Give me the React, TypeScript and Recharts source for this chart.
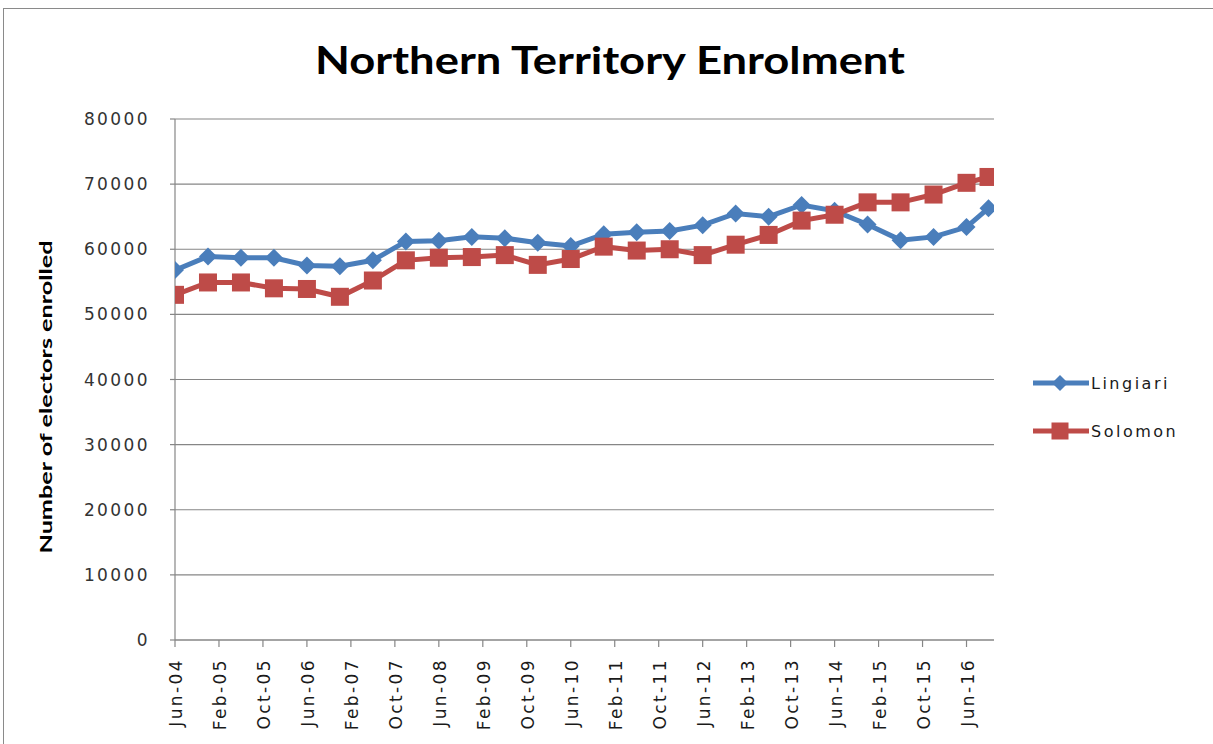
import { CartesianGrid, Legend, Line, LineChart, XAxis, YAxis } from "recharts";

// Survey dates (roughly every six months, last one Oct-16)
const DATES = [
  "2004-06", "2004-12", "2005-06", "2005-12", "2006-06", "2006-12",
  "2007-06", "2007-12", "2008-06", "2008-12", "2009-06", "2009-12",
  "2010-06", "2010-12", "2011-06", "2011-12", "2012-06", "2012-12",
  "2013-06", "2013-12", "2014-06", "2014-12", "2015-06", "2015-12",
  "2016-06", "2016-10",
];

const LINGIARI = [
  56800, 58900, 58700, 58700, 57500, 57400, 58300, 61200, 61300, 61900,
  61700, 61000, 60500, 62300, 62600, 62800, 63700, 65500, 65000, 66800,
  65900, 63800, 61400, 61900, 63400, 66300,
];

const SOLOMON = [
  53000, 54900, 54900, 54000, 53900, 52700, 55200, 58300, 58700, 58800,
  59100, 57600, 58500, 60400, 59800, 60000, 59100, 60700, 62200, 64400,
  65300, 67200, 67200, 68400, 70200, 71100,
];

const X_TICK_LABELS = [
  "Jun-04", "Feb-05", "Oct-05", "Jun-06", "Feb-07", "Oct-07", "Jun-08",
  "Feb-09", "Oct-09", "Jun-10", "Feb-11", "Oct-11", "Jun-12", "Feb-13",
  "Oct-13", "Jun-14", "Feb-15", "Oct-15", "Jun-16",
];

const Y_TICKS = [0, 10000, 20000, 30000, 40000, 50000, 60000, 70000, 80000];

const BLUE = "#4A7EBB";
const RED = "#BE4B48";
const GRID = "#868686";

// months since Jun-04
const monthsFrom = (d: string) => {
  const [y, m] = d.split("-").map(Number);
  return (y - 2004) * 12 + (m - 6);
};

const data = DATES.map((d, i) => ({
  m: monthsFrom(d),
  Lingiari: LINGIARI[i],
  Solomon: SOLOMON[i],
}));

const X_TICKS = X_TICK_LABELS.map((_, i) => i * 8);

const Diamond = (props: any) => {
  const { cx, cy, color } = props;
  if (cx == null || cy == null) return null;
  const r = 9;
  return (
    <path
      d={`M${cx},${cy - r} L${cx + r},${cy} L${cx},${cy + r} L${cx - r},${cy} Z`}
      fill={color}
    />
  );
};

const Square = (props: any) => {
  const { cx, cy, color } = props;
  if (cx == null || cy == null) return null;
  const s = 18;
  return <rect x={cx - s / 2} y={cy - s / 2} width={s} height={s} fill={color} />;
};

const XTick = (props: any) => {
  const { x, y, payload } = props;
  const label = X_TICK_LABELS[Math.round(payload.value / 8)];
  return (
    <text
      x={x + 1}
      y={y + 9}
      transform={`rotate(-90 ${x + 1} ${y + 9})`}
      textAnchor="end"
      dominantBaseline="central"
      fontFamily="DejaVu Sans"
      fontSize={17}
      letterSpacing={2.4}
      fill="#1a1a1a"
    >
      {label}
    </text>
  );
};

const LegendContent = () => {
  const items = [
    { name: "Lingiari", color: BLUE, shape: "diamond" },
    { name: "Solomon", color: RED, shape: "square" },
  ];
  return (
    <div>
      {items.map((it, i) => (
        <div key={it.name} style={{ display: "flex", alignItems: "center", height: 24, marginBottom: i === 0 ? 24 : 0 }}>
          <svg width={58} height={24}>
            <line x1={0} y1={12} x2={56} y2={12} stroke={it.color} strokeWidth={5} />
            {it.shape === "diamond" ? (
              <path d="M27,4 L35,12 L27,20 L19,12 Z" fill={it.color} />
            ) : (
              <rect x={18.5} y={3.5} width={17} height={17} fill={it.color} />
            )}
          </svg>
          <span
            style={{
              fontFamily: "DejaVu Sans",
              fontSize: 16,
              letterSpacing: 2.5,
              color: "#1a1a1a",
            }}
          >
            {it.name}
          </span>
        </div>
      ))}
    </div>
  );
};

export default function App() {
  return (
    <div
      style={{
        position: "absolute",
        left: 0,
        top: 0,
        width: 1213,
        height: 744,
        background: "#fff",
        overflow: "hidden",
      }}
    >
      <div
        style={{
          position: "absolute",
          left: 3,
          top: 8,
          width: 1240,
          height: 780,
          border: "1.5px solid #8a8a8a",
        }}
      />
      <svg width={1213} height={744} style={{ position: "absolute", left: 0, top: 0 }}>
        <text
          x={610}
          y={74}
          textAnchor="middle"
          fontFamily="Lato"
          fontWeight={700}
          fontSize={38}
          textLength={590}
          lengthAdjust="spacingAndGlyphs"
          fill="#000"
        >
          Northern Territory Enrolment
        </text>
        <text
          x={45}
          y={397}
          transform="rotate(-90 45 397)"
          textAnchor="middle"
          dominantBaseline="central"
          fontFamily="Lato"
          fontWeight={700}
          fontSize={17}
          textLength={313}
          lengthAdjust="spacingAndGlyphs"
          fill="#000"
        >
          Number of electors enrolled
        </text>
      </svg>
      <LineChart
        width={1213}
        height={744}
        data={data}
        margin={{ top: 119, right: 219, bottom: 0, left: 100 }}
        style={{ position: "absolute", left: 0, top: 0 }}
      >
        <CartesianGrid horizontal vertical={false} stroke={GRID} strokeWidth={1.2} />
        <XAxis
          dataKey="m"
          type="number"
          domain={[0, 149]}
          ticks={X_TICKS}
          interval={0}
          height={104}
          stroke={GRID}
          strokeWidth={1.2}
          tickSize={7}
          tickMargin={2}
          tick={<XTick />}
          allowDataOverflow
        />
        <YAxis
          type="number"
          domain={[0, 80000]}
          ticks={Y_TICKS}
          interval={0}
          width={75}
          stroke={GRID}
          strokeWidth={1.2}
          tickSize={5}
          tickMargin={20}
          tick={{
            fill: "#333",
            fontFamily: "DejaVu Sans",
            fontSize: 17,
            letterSpacing: 2.4,
          }}
        />
        <Legend
          layout="vertical"
          align="center"
          verticalAlign="middle"
          content={<LegendContent />}
          wrapperStyle={{ left: 1033, top: 371, width: 170 }}
        />
        <Line
          dataKey="Lingiari"
          type="linear"
          stroke={BLUE}
          strokeWidth={5}
          dot={<Diamond color={BLUE} />}
          activeDot={false}
          isAnimationActive={false}
        />
        <Line
          dataKey="Solomon"
          type="linear"
          stroke={RED}
          strokeWidth={5}
          dot={<Square color={RED} />}
          activeDot={false}
          isAnimationActive={false}
        />
      </LineChart>
    </div>
  );
}
